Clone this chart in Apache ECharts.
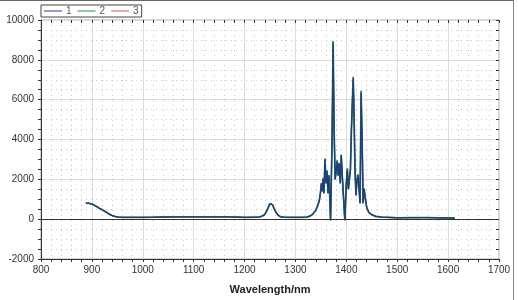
<!DOCTYPE html>
<html><head><meta charset="utf-8">
<script src="https://cdn.jsdelivr.net/npm/echarts@6/dist/echarts.min.js"></script>
<style>html,body{margin:0;padding:0;background:#fff}#c{width:518px;height:300px}</style>
</head><body><div id="c"></div>
<script>
// wavelength (nm)
const wavelengths = [888,895,900,905,910,915,920,925,930,935,940,945,950,955,960,980,1000,1020,1022,1060,1100,1140,1170,1172,1200,1225,1232,1238,1242,1246,1250,1252,1255,1258,1262,1266,1270,1276,1290,1310,1322,1328,1334,1340,1344,1347,1349,1351,1353,1354,1356,1358,1360,1362,1364,1366,1369,1372,1374,1376,1378,1380,1382,1384,1386,1388,1390,1392,1394,1397,1400,1402,1404,1406,1408,1410,1412,1413.5,1415,1417,1419,1421,1423,1425,1427,1429,1431,1433,1435,1437,1440,1444,1450,1458,1470,1500,1530,1560,1580,1613];
const series1 = [800,790,760,700,620,540,480,400,320,240,180,140,110,95,90,90,90,95,120,120,120,120,120,90,90,95,130,200,330,550,780,820,720,540,330,200,130,100,90,90,100,150,250,450,700,950,1300,1800,1400,2000,1300,3000,1800,2400,1300,2200,-50,4000,8850,4500,2000,2400,2900,2200,2800,1800,3200,2200,1300,-50,1800,2500,1500,1450,2500,4500,6000,7050,5500,2500,1200,2000,2200,1500,800,6350,4000,800,1500,1100,600,350,220,140,100,70,80,80,70,50];
const series2 = [800,790,760,700,620,540,480,400,320,240,180,140,110,95,90,90,90,95,120,120,120,120,120,90,90,95,130,200,330,550,780,820,720,540,330,200,130,100,90,90,100,150,250,450,700,950,1300,1800,1400,2050,1300,3050,1800,2450,1300,2200,-50,4000,8950,4500,2000,2400,2950,2200,2800,1800,3250,2200,1300,-50,1800,2550,1500,1450,2500,4500,6000,7150,5500,2500,1200,2000,2250,1500,800,6450,4000,800,1550,1100,600,350,220,140,100,70,80,80,70,50];
const series3 = [800,790,760,700,620,540,480,400,320,240,180,140,110,95,90,90,90,95,120,120,120,120,120,90,90,95,130,200,330,550,780,820,720,540,330,200,130,100,90,90,100,150,250,450,700,950,1300,1800,1400,1950,1300,2950,1800,2350,1300,2200,-50,4000,8800,4500,2000,2400,2850,2200,2800,1800,3150,2200,1300,-50,1800,2450,1500,1450,2500,4500,6000,7000,5500,2500,1200,2000,2150,1500,800,6300,4000,800,1450,1100,600,350,220,140,100,70,80,80,70,50];
const seriesNames = ['1','2','3'];
const xTicks = {min: 800, max: 1700, interval: 100};
const yTicks = {min: -2000, max: 10000, interval: 2000};

const pairs = arr => wavelengths.map((w, i) => [w, arr[i]]);
const font = 'Liberation Sans, Arial, sans-serif';
const plain = v => String(v);
const chart = echarts.init(document.getElementById('c'), null, {renderer: 'canvas'});

const baseX = {
  type: 'value', min: xTicks.min, max: xTicks.max, interval: xTicks.interval,
  gridIndex: 0
};
const baseY = {
  type: 'value', min: yTicks.min, max: yTicks.max, interval: yTicks.interval,
  gridIndex: 0
};

chart.setOption({
  animation: false,
  backgroundColor: '#fff',
  grid: {left: 41, right: 19, top: 20, bottom: 39, show: true, borderColor: '#aaa', borderWidth: 1},
  legend: {
    left: 41, top: 5, padding: [1, 3], itemGap: 6, itemWidth: 18, itemHeight: 1,
    borderColor: '#444', borderWidth: 1, backgroundColor: '#fff',
    icon: 'rect',
    textStyle: {fontFamily: font, fontSize: 10, color: '#555', padding: [0, 0, 0, -1]},
    data: seriesNames
  },
  xAxis: [
    Object.assign({}, baseX, {
      name: 'Wavelength/nm', nameLocation: 'middle', nameGap: 25,
      nameTextStyle: {fontFamily: font, fontSize: 11, fontWeight: 'bold', color: '#222'},
      axisLine: {onZero: false, lineStyle: {color: '#333', width: 1}},
      axisTick: {show: true, length: 3, lineStyle: {color: '#333'}},
      minorTick: {show: true, splitNumber: 5, length: 3, lineStyle: {color: '#333'}},
      axisLabel: {fontFamily: font, fontSize: 10, color: '#333', margin: 6, formatter: plain},
      splitLine: {show: true, lineStyle: {color: '#dcdcdc', width: 1}},
      minorSplitLine: {show: true, lineStyle: {color: '#c8c8c8', type: [1, 4], width: 1}}
    }),
    Object.assign({}, baseX, {
      axisLine: {show: false, onZero: false},
      axisTick: {show: true, inside: true, length: 3, lineStyle: {color: '#333'}},
      minorTick: {show: true, splitNumber: 5, length: 3, lineStyle: {color: '#333'}},
      axisLabel: {show: false}, splitLine: {show: false}
    })
  ],
  yAxis: [
    Object.assign({}, baseY, {
      axisLine: {show: true, onZero: false, lineStyle: {color: '#333', width: 1}},
      axisTick: {show: true, length: 3, lineStyle: {color: '#333'}},
      minorTick: {show: true, splitNumber: 4, length: 3, lineStyle: {color: '#333'}},
      axisLabel: {fontFamily: font, fontSize: 10, color: '#333', margin: 7, formatter: plain},
      splitLine: {show: true, lineStyle: {color: '#dcdcdc', width: 1}},
      minorSplitLine: {show: true, lineStyle: {color: '#c8c8c8', type: [1, 4], width: 1}}
    }),
    Object.assign({}, baseY, {
      axisLine: {show: false, onZero: false},
      axisTick: {show: true, inside: true, length: 3, lineStyle: {color: '#333'}},
      minorTick: {show: true, splitNumber: 4, length: 3, lineStyle: {color: '#333'}},
      axisLabel: {show: false}, splitLine: {show: false}
    })
  ],
  graphic: [
    {type: 'line', shape: {x1: 0, y1: 0.5, x2: 514, y2: 0.5}, style: {stroke: '#666', lineWidth: 1}},
    {type: 'line', shape: {x1: 513.5, y1: 0, x2: 513.5, y2: 300}, style: {stroke: '#888', lineWidth: 1}}
  ],
  series: [
    {
      name: seriesNames[0], type: 'line', data: pairs(series1), z: 4,
      showSymbol: false, smooth: false, color: '#2a3d8f',
      lineStyle: {color: '#1f3f7a', width: 1.3},
      markLine: {
        silent: true, symbol: 'none', label: {show: false},
        lineStyle: {color: '#333', type: 'solid', width: 1},
        data: [{yAxis: 0}]
      }
    },
    {
      name: seriesNames[1], type: 'line', data: pairs(series2), z: 3,
      showSymbol: false, color: '#2e8b3e',
      lineStyle: {color: '#2a7a55', width: 1.7}
    },
    {
      name: seriesNames[2], type: 'line', data: pairs(series3), z: 2,
      showSymbol: false, color: '#d9534f',
      lineStyle: {color: '#c04848', width: 1}
    }
  ]
});
</script></body></html>
